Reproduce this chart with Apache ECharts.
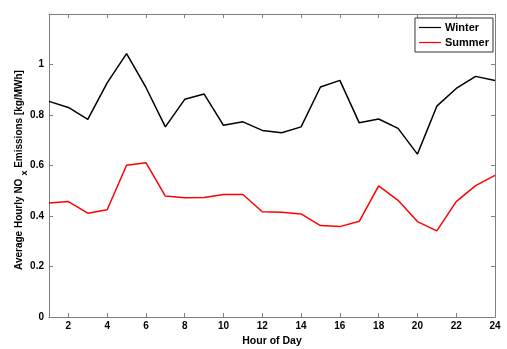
<!DOCTYPE html>
<html>
<head>
<meta charset="utf-8">
<script src="https://cdn.jsdelivr.net/npm/echarts@6/dist/echarts.min.js"></script>
<style>
  html, body { margin: 0; padding: 0; background: #fff; }
  #chart { width: 507px; height: 349px; }
</style>
</head>
<body>
<div id="chart"></div>
<script>
// Hour of day (1..24)
const hours = [1,2,3,4,5,6,7,8,9,10,11,12,13,14,15,16,17,18,19,20,21,22,23,24];
// Average hourly NOx emissions [kg/MWh]
const winter = [0.854,0.830,0.783,0.927,1.043,0.909,0.753,0.862,0.883,0.759,0.773,0.739,
                0.730,0.753,0.911,0.937,0.769,0.784,0.747,0.645,0.835,0.905,0.953,0.937];
const summer = [0.451,0.457,0.411,0.425,0.601,0.611,0.479,0.472,0.473,0.485,0.485,0.417,
                0.415,0.408,0.362,0.358,0.379,0.519,0.462,0.378,0.341,0.457,0.520,0.561];
const xTicks = [2,4,6,8,10,12,14,16,18,20,22,24];

const font = '"Liberation Sans", Arial, Helvetica, sans-serif';
const axisGray = '#7f7f7f';

const chart = echarts.init(document.getElementById('chart'), null, { renderer: 'canvas' });

function xAx(pos, showLabel) {
  return {
    type: 'value', position: pos, min: 1, max: 24,
    axisLine: { show: true, onZero: false, lineStyle: { color: axisGray, width: 1 } },
    axisTick: { show: true, inside: true, length: 4, customValues: xTicks, lineStyle: { color: axisGray } },
    axisLabel: { show: showLabel, customValues: xTicks, color: '#000', fontFamily: font, fontWeight: 'bold', fontSize: 10, margin: 4 },
    splitLine: { show: false },
    name: showLabel ? 'Hour of Day' : '',
    nameLocation: 'middle', nameGap: 16,
    nameTextStyle: { color: '#000', fontFamily: font, fontWeight: 'bold', fontSize: 10.5 }
  };
}
function yAx(pos, showLabel) {
  return {
    type: 'value', position: pos, min: 0, max: 1.2, interval: 0.2,
    axisLine: { show: true, onZero: false, lineStyle: { color: axisGray, width: 1 } },
    axisTick: { show: true, inside: true, length: 4, lineStyle: { color: axisGray } },
    axisLabel: { show: showLabel, showMaxLabel: false, color: '#000', fontFamily: font, fontWeight: 'bold', fontSize: 10, margin: 5 },
    splitLine: { show: false }
  };
}

chart.setOption({
  animation: false,
  backgroundColor: '#fff',
  grid: { left: 49, right: 12, top: 14, bottom: 32, outerBoundsMode: 'none', containLabel: false },
  xAxis: [xAx('bottom', true), xAx('top', false)],
  yAxis: [yAx('left', true), yAx('right', false)],
  legend: {
    orient: 'vertical', right: 14, top: 18,
    backgroundColor: '#fff', borderColor: '#333', borderWidth: 1, borderRadius: 0,
    padding: [3, 4, 3, 4], itemGap: 2, itemWidth: 22, itemHeight: 1.2,
    icon: 'rect',
    textStyle: { color: '#000', fontFamily: font, fontWeight: 'bold', fontSize: 11, padding: [0, 0, 0, -1], lineHeight: 13 },
    data: ['Winter', 'Summer']
  },
  graphic: [{
    type: 'text', x: 19, y: 170, rotation: Math.PI / 2,
    style: {
      text: '{a|Average Hourly NO}{s|x}{a| Emissions [kg/MWh]}',
      align: 'center', verticalAlign: 'middle',
      rich: {
        a: { fontFamily: font, fontWeight: 'bold', fontSize: 10, fill: '#000', lineHeight: 13 },
        s: { fontFamily: font, fontWeight: 'bold', fontSize: 9, fill: '#000', padding: [11, 0, 0, 3], lineHeight: 10 }
      }
    }
  }],
  series: [
    {
      name: 'Winter', type: 'line', xAxisIndex: 0, yAxisIndex: 0,
      data: hours.map((h, i) => [h, winter[i]]),
      showSymbol: false, symbol: 'none',
      lineStyle: { color: '#000', width: 1.5 }, itemStyle: { color: '#000' }
    },
    {
      name: 'Summer', type: 'line', xAxisIndex: 0, yAxisIndex: 0,
      data: hours.map((h, i) => [h, summer[i]]),
      showSymbol: false, symbol: 'none',
      lineStyle: { color: '#ff0000', width: 1.5 }, itemStyle: { color: '#ff0000' }
    }
  ]
});
</script>
</body>
</html>
